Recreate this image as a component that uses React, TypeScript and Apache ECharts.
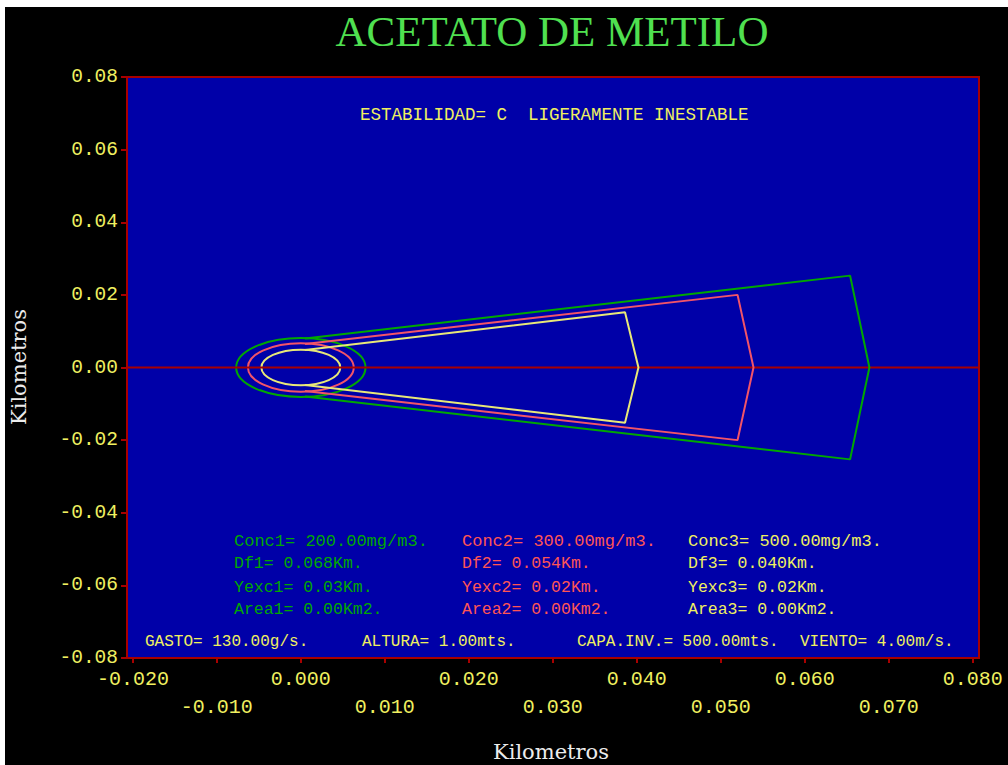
import React, { useEffect, useRef } from "react";
import * as echarts from "echarts";

// ---- data ----
const titleText = "ACETATO DE METILO";
const stabilityText = "ESTABILIDAD= C  LIGERAMENTE INESTABLE";
const axisName = "Kilometros";

const xMin = -0.0207;
const xMax = 0.08075;
const yMin = -0.08;
const yMax = 0.08;
const xMajorTicks = [-0.02, 0.0, 0.02, 0.04, 0.06, 0.08];
const xMinorTicks = [-0.01, 0.01, 0.03, 0.05, 0.07];

const concentrations = [200.0, 300.0, 500.0];
const dfValues = [0.068, 0.054, 0.04];
const yexcValues = [0.03, 0.02, 0.02];
const areaValues = [0.0, 0.0, 0.0];

// circles around the source: [cx, cy, rx, ry]
const circle1 = [0, 0, 0.0077, 0.0081];
const circle2 = [0, 0, 0.0063, 0.0067];
const circle3 = [0, 0, 0.0047, 0.0049];

// plume outlines
const plume1 = [
  [0.0005, 0.008],
  [0.0654, 0.0253],
  [0.0677, 0.0],
  [0.0654, -0.0253],
  [0.0005, -0.008],
];
const plume2 = [
  [0.0005, 0.0065],
  [0.052, 0.02],
  [0.0539, 0.0],
  [0.052, -0.02],
  [0.0005, -0.0065],
];
const plume3 = [
  [0.0005, 0.0048],
  [0.0386, 0.0152],
  [0.0402, 0.0],
  [0.0386, -0.0152],
  [0.0005, -0.0048],
];
const zeroLine = [
  [xMin, 0],
  [xMax, 0],
];

const gasto = 130.0;
const altura = 1.0;
const capaInv = 500.0;
const viento = 4.0;

// ---- styles ----
const GREEN = "#00a800";
const PINK = "#f25468";
const PINK_TEXT = "#ff5555";
const YELLOW_LINE = "#e8e878";
const YELLOW = "#f0f060";
const DARKRED = "#a80000";
const BLUE = "#0000a8";
const MONO = "'Liberation Mono', 'DejaVu Sans Mono', monospace";

function txt(x: number, y: number, text: string, fill: string, size = 16.5) {
  return {
    type: "text",
    x,
    y,
    silent: true,
    style: {
      text,
      fill,
      font: `${size}px ${MONO}`,
      align: "left",
      verticalAlign: "middle",
      textAlign: "left",
      textVerticalAlign: "middle",
    },
  };
}

export default function App() {
  const ref = useRef<HTMLDivElement>(null);
  useEffect(() => {
    if (!ref.current) return;
    const chart = echarts.init(ref.current, undefined, { renderer: "svg" });

    const ellipseSeries = (c: number[], color: string) => ({
      type: "custom",
      coordinateSystem: "cartesian2d",
      silent: true,
      data: [c],
      renderItem: (params: any, api: any) => {
        const p = api.coord([api.value(0), api.value(1)]);
        const s = api.size([api.value(2), api.value(3)]);
        return {
          type: "ellipse",
          shape: { cx: p[0], cy: p[1], rx: s[0], ry: s[1] },
          style: { fill: "none", stroke: color, lineWidth: 2 },
        };
      },
    });
    const lineSeries = (d: number[][], color: string, w = 2) => ({
      type: "line",
      data: d,
      symbol: "none",
      silent: true,
      lineStyle: { color, width: w },
    });

    const colX = [229, 457, 683];
    const colors = [GREEN, PINK_TEXT, YELLOW];
    const infoTexts: any[] = [];
    for (let i = 0; i < 3; i++) {
      infoTexts.push(txt(colX[i], 534, `Conc${i + 1}= ${concentrations[i].toFixed(2)}mg/m3.`, colors[i], 17));
      infoTexts.push(txt(colX[i], 556, `Df${i + 1}= ${dfValues[i].toFixed(3)}Km.`, colors[i]));
      infoTexts.push(txt(colX[i], 580, `Yexc${i + 1}= ${yexcValues[i].toFixed(2)}Km.`, colors[i]));
      infoTexts.push(txt(colX[i], 602, `Area${i + 1}= ${areaValues[i].toFixed(2)}Km2.`, colors[i]));
    }

    chart.setOption({
      animation: false,
      backgroundColor: "#000000",
      grid: {
        left: 122,
        top: 70,
        right: 29,
        bottom: 107,
        show: true,
        backgroundColor: BLUE,
        borderColor: DARKRED,
        borderWidth: 2,
      },
      xAxis: [
        {
          type: "value",
          min: xMin,
          max: xMax,
          position: "bottom",
          axisLine: { show: false, onZero: false },
          splitLine: { show: false },
          axisTick: {
            show: true,
            length: 5,
            customValues: [...xMajorTicks, ...xMinorTicks],
            lineStyle: { color: DARKRED, width: 2 },
          },
          axisLabel: {
            customValues: xMajorTicks,
            margin: 11,
            color: YELLOW,
            fontFamily: MONO,
            fontSize: 20,
            formatter: (v: number) => v.toFixed(3),
          },
        },
        {
          type: "value",
          min: xMin,
          max: xMax,
          position: "bottom",
          axisLine: { show: false, onZero: false },
          splitLine: { show: false },
          axisTick: { show: false },
          axisLabel: {
            customValues: xMinorTicks,
            margin: 39,
            color: YELLOW,
            fontFamily: MONO,
            fontSize: 20,
            formatter: (v: number) => v.toFixed(3),
          },
        },
      ],
      yAxis: {
        type: "value",
        min: yMin,
        max: yMax,
        interval: 0.02,
        position: "left",
        axisLine: { show: false, onZero: false },
        splitLine: { show: false },
        axisTick: { show: true, length: 6, lineStyle: { color: DARKRED, width: 2 } },
        axisLabel: {
          margin: 9,
          color: YELLOW,
          fontFamily: MONO,
          fontSize: 19.5,
          formatter: (v: number) => (Math.abs(v) < 1e-9 ? 0 : v).toFixed(2),
        },
      },
      series: [
        lineSeries(zeroLine, DARKRED, 2),
        ellipseSeries(circle1, GREEN),
        ellipseSeries(circle2, PINK),
        ellipseSeries(circle3, YELLOW_LINE),
        lineSeries(plume1, GREEN),
        lineSeries(plume2, PINK),
        lineSeries(plume3, YELLOW_LINE),
      ],
      graphic: [
        {
          type: "text",
          x: 547,
          y: 24,
          silent: true,
          style: {
            text: titleText,
            fill: "#50e050",
            font: "43px 'Liberation Serif', serif",
            align: "center",
            verticalAlign: "middle",
            textAlign: "center",
            textVerticalAlign: "middle",
          },
        },
        {
          type: "text",
          x: 14,
          y: 360,
          rotation: Math.PI / 2,
          silent: true,
          style: {
            text: axisName,
            fill: "#ececec",
            font: "21px 'DejaVu Serif', serif",
            align: "center",
            verticalAlign: "middle",
            textAlign: "center",
            textVerticalAlign: "middle",
          },
        },
        {
          type: "text",
          x: 546,
          y: 745,
          silent: true,
          style: {
            text: axisName,
            fill: "#ececec",
            font: "21px 'DejaVu Serif', serif",
            align: "center",
            verticalAlign: "middle",
            textAlign: "center",
            textVerticalAlign: "middle",
          },
        },
        txt(355, 108, stabilityText, YELLOW, 17.5),
        ...infoTexts,
        txt(140, 635, `GASTO= ${gasto.toFixed(2)}g/s.`, YELLOW, 16),
        txt(357, 635, `ALTURA= ${altura.toFixed(2)}mts.`, YELLOW, 16),
        txt(572, 635, `CAPA.INV.= ${capaInv.toFixed(2)}mts.`, YELLOW, 16),
        txt(795, 635, `VIENTO= ${viento.toFixed(2)}m/s.`, YELLOW, 16),
      ],
    });
    return () => chart.dispose();
  }, []);
  return (
    <div
      ref={ref}
      style={{ position: "fixed", left: 5, top: 7, width: 1003, height: 758 }}
    />
  );
}
